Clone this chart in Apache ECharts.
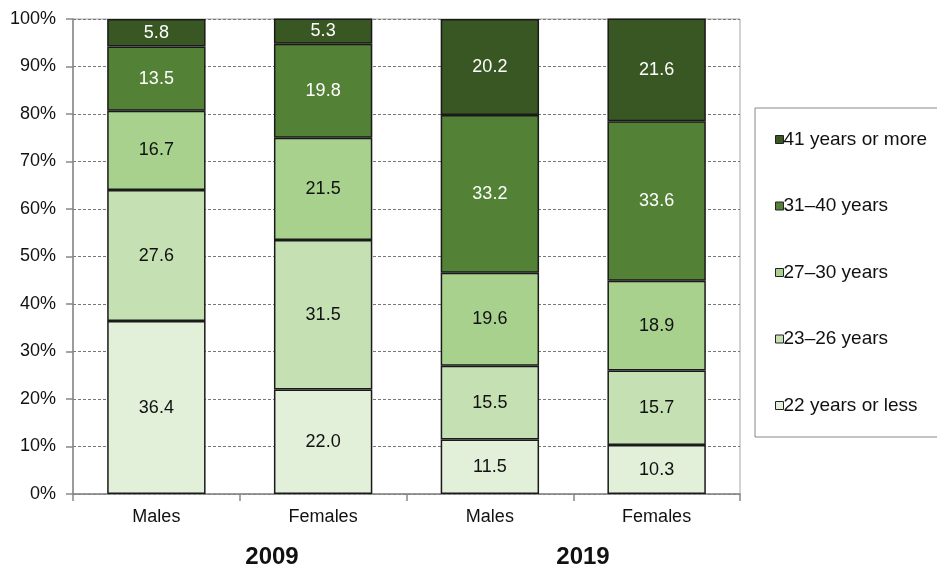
<!DOCTYPE html>
<html>
<head>
<meta charset="utf-8">
<script src="https://cdn.jsdelivr.net/npm/echarts@6/dist/echarts.min.js"></script>
<style>
  html, body { margin: 0; padding: 0; background: #fff; }
  #chart { width: 937px; height: 569px; }
</style>
</head>
<body>
<div id="chart"></div>
<script>
var categories = ['Males', 'Females', 'Males', 'Females'];
var years = ['2009', '2019'];
var yTicks = [0, 10, 20, 30, 40, 50, 60, 70, 80, 90, 100];

// shares in %, order of categories above
var age22less = [36.4, 22.0, 11.5, 10.3];
var age23to26 = [27.6, 31.5, 15.5, 15.7];
var age27to30 = [16.7, 21.5, 19.6, 18.9];
var age31to40 = [13.5, 19.8, 33.2, 33.6];
var age41more = [5.8, 5.3, 20.2, 21.6];

var seriesNames = ['22 years or less', '23\u201326 years', '27\u201330 years', '31\u201340 years', '41 years or more'];
var seriesData = [age22less, age23to26, age27to30, age31to40, age41more];
var colors = ['#e2efd9', '#c5e0b3', '#a8d18d', '#538135', '#385723'];
var labelColors = ['#111', '#111', '#111', '#fff', '#fff'];

var chart = echarts.init(document.getElementById('chart'));
var font = 'Liberation Sans, Arial, sans-serif';

var series = [];
for (var i = 0; i < seriesData.length; i++) {
    series.push({
        name: seriesNames[i],
        type: 'bar',
        stack: 'total',
        barWidth: '59%',
        data: seriesData[i],
        itemStyle: { color: colors[i], borderColor: '#1a1a1a', borderWidth: 1.5 },
        label: {
            show: true,
            position: 'inside',
            color: labelColors[i],
            fontSize: 18,
            fontFamily: font,
            formatter: function (p) { return p.value.toFixed(1); }
        },
        emphasis: { disabled: true }
    });
}

var option = {
    animation: false,
    color: colors,
    grid: {
        left: 73, top: 19, right: 197, bottom: 75,
        show: true, borderColor: '#a6a6a6', borderWidth: 1
    },
    legend: {
        orient: 'vertical',
        left: 755, top: 108,
        data: seriesNames.slice().reverse(),
        icon: 'rect',
        itemWidth: 8, itemHeight: 8,
        itemGap: 47.5,
        padding: [22, 14, 22, 20],
        backgroundColor: '#fff',
        borderColor: '#888',
        borderWidth: 1,
        itemStyle: { borderColor: '#222', borderWidth: 1 },
        textStyle: { fontSize: 19, fontFamily: font, color: '#111', padding: [0, 0, 0, -5] },
        selectedMode: false
    },
    xAxis: {
        type: 'category',
        data: categories,
        axisLine: { lineStyle: { color: '#888', width: 1.5 } },
        axisTick: { show: true, interval: 0, length: 7, lineStyle: { color: '#888', width: 1.5 } },
        axisLabel: { fontSize: 18, fontFamily: font, color: '#111', margin: 14 }
    },
    yAxis: {
        type: 'value',
        min: yTicks[0],
        max: yTicks[yTicks.length - 1],
        interval: 10,
        axisLine: { show: true, lineStyle: { color: '#888', width: 1.5 } },
        axisTick: { show: true, length: 7, lineStyle: { color: '#888', width: 1.5 } },
        axisLabel: { fontSize: 18, fontFamily: font, color: '#111', margin: 17, formatter: '{value}%' },
        splitLine: { lineStyle: { color: '#777', type: [3, 2], width: 1 } }
    },
    graphic: [
        { type: 'text', x: 272, y: 557, style: { text: years[0], fontSize: 24, fontWeight: 'bold', fontFamily: font, fill: '#111', textAlign: 'center', textVerticalAlign: 'middle' } },
        { type: 'text', x: 583, y: 557, style: { text: years[1], fontSize: 24, fontWeight: 'bold', fontFamily: font, fill: '#111', textAlign: 'center', textVerticalAlign: 'middle' } }
    ],
    series: series
};
chart.setOption(option);
</script>
</body>
</html>
